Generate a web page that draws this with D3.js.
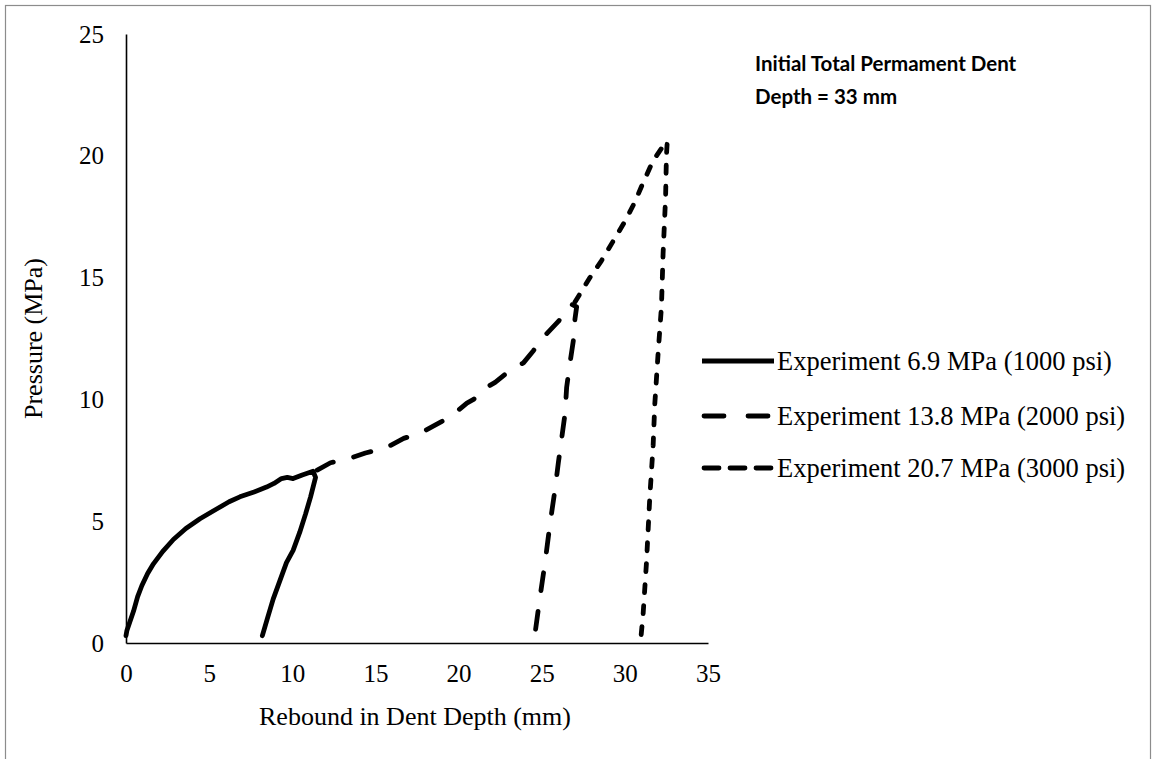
<!DOCTYPE html>
<html>
<head>
<meta charset="utf-8">
<script src="https://cdn.jsdelivr.net/npm/d3@7"></script>
<style>
  html, body { margin: 0; padding: 0; background: #fff; }
  svg { display: block; }
</style>
</head>
<body>
<svg id="chart" width="1154" height="759"></svg>
<script>
// Rebound in dent depth (mm) vs. pressure (MPa) for three pressure levels
const xTicks = [0, 5, 10, 15, 20, 25, 30, 35];
const yTicks = [0, 5, 10, 15, 20, 25];

// Experiment 6.9 MPa (1000 psi)
const depth69 = [0.0, 0.05, 0.25, 0.45, 0.7, 0.95, 1.3, 1.65, 2.2, 2.85, 3.6, 4.45, 5.45, 6.2, 6.85, 7.7, 8.45, 8.9, 9.35, 9.7, 10.05, 10.6, 11.25, 11.4, 11.1, 10.8, 10.45, 10.05, 9.65, 9.25, 8.85, 8.5, 8.2];
const press69 = [0.3, 0.5, 0.9, 1.3, 1.9, 2.35, 2.85, 3.25, 3.75, 4.25, 4.7, 5.1, 5.5, 5.8, 6.0, 6.2, 6.4, 6.55, 6.75, 6.8, 6.75, 6.9, 7.05, 6.8, 6.0, 5.3, 4.55, 3.8, 3.3, 2.55, 1.8, 1.0, 0.3];

// Experiment 13.8 MPa (2000 psi)
const depth138 = [11.5, 12.3, 13.3, 14.4, 15.6, 16.7, 17.8, 19.0, 19.8, 20.5, 20.9, 21.7, 22.2, 23.1, 23.9, 24.5, 25.3, 26.0, 26.8, 27.1, 27.0, 26.9, 26.7, 26.5, 26.4, 26.2, 26.0, 25.8, 25.5, 25.2, 24.9, 24.6];
const press138 = [7.1, 7.4, 7.55, 7.8, 8.0, 8.4, 8.65, 9.1, 9.45, 9.85, 10.0, 10.5, 10.7, 11.2, 11.5, 12.0, 12.7, 13.2, 13.9, 13.8, 13.3, 12.4, 11.5, 10.5, 9.4, 8.4, 7.4, 6.3, 4.9, 3.3, 1.9, 0.4];

// Experiment 20.7 MPa (3000 psi)
const depth207 = [27.0, 27.9, 28.6, 29.3, 30.0, 30.6, 31.1, 31.7, 32.3, 32.55, 32.5, 32.45, 32.3, 32.2, 32.0, 31.8, 31.7, 31.5, 31.3, 31.1, 30.95];
const press207 = [14.0, 15.0, 15.7, 16.5, 17.3, 18.1, 18.9, 19.8, 20.4, 20.6, 20.0, 18.3, 16.0, 13.8, 11.9, 9.8, 8.1, 6.0, 3.3, 1.2, 0.1];

const seriesNames = [
  "Experiment 6.9 MPa (1000 psi)",
  "Experiment 13.8 MPa (2000 psi)",
  "Experiment 20.7 MPa (3000 psi)"
];

const series = [
  { name: seriesNames[0], xs: depth69, ys: press69, dash: null, keyDash: null },
  { name: seriesNames[1], xs: depth138, ys: press138, dash: "18,21", keyDash: "20,24" },
  { name: seriesNames[2], xs: depth207, ys: press207, dash: "8,13", keyDash: "15,11" }
];

const svg = d3.select("#chart");
const serif = "'Liberation Serif', 'Times New Roman', serif";

// outer frame
svg.append("rect")
  .attr("x", 5.5).attr("y", 5.5)
  .attr("width", 1145).attr("height", 800)
  .attr("fill", "none").attr("stroke", "#8c8c8c").attr("stroke-width", 1.2);

const plot = { left: 126, right: 708, top: 34, bottom: 643 };
const x = d3.scaleLinear().domain([0, 35]).range([plot.left, plot.right]);
const y = d3.scaleLinear().domain([0, 25]).range([plot.bottom, plot.top]);

// axes (no tick marks, labels only)
const xAxis = d3.axisBottom(x).tickValues(xTicks).tickSize(0).tickPadding(21);
const yAxis = d3.axisLeft(y).tickValues(yTicks).tickSize(0).tickPadding(22);

const gx = svg.append("g").attr("transform", `translate(0,${plot.bottom})`).call(xAxis);
const gy = svg.append("g").attr("transform", `translate(${plot.left},0)`).call(yAxis);
[gx, gy].forEach(g => {
  g.select(".domain").attr("stroke", "#000").attr("stroke-width", 1.6);
  g.selectAll(".tick text")
    .attr("font-family", serif).attr("font-size", 25).attr("fill", "#000");
});

// axis titles
svg.append("text")
  .attr("x", (plot.left + plot.right) / 2 - 2).attr("y", 725)
  .attr("text-anchor", "middle")
  .attr("font-family", serif).attr("font-size", 26)
  .text("Rebound in Dent Depth (mm)");

svg.append("text")
  .attr("transform", `translate(42,${(plot.top + plot.bottom) / 2}) rotate(-90)`)
  .attr("text-anchor", "middle")
  .attr("font-family", serif).attr("font-size", 26)
  .text("Pressure (MPa)");

// curves
const line = d3.line().x(d => x(d[0])).y(d => y(d[1]));
series.forEach(s => {
  const pts = s.xs.map((v, i) => [v, s.ys[i]]);
  svg.append("path")
    .attr("d", line(pts))
    .attr("fill", "none")
    .attr("stroke", "#000")
    .attr("stroke-width", 4.8)
    .attr("stroke-linecap", "round")
    .attr("stroke-linejoin", "round")
    .attr("stroke-dasharray", s.dash);
});

// annotation
const note = svg.append("text")
  .attr("font-family", "Lato, 'Open Sans', sans-serif")
  .attr("font-weight", "bold").attr("font-size", 20.5).attr("fill", "#000");
note.append("tspan").attr("x", 755).attr("y", 71).text("Initial Total Permament Dent");
note.append("tspan").attr("x", 755).attr("y", 104).text("Depth = 33 mm");

// legend
const legendY = [361, 416, 468];
series.forEach((s, i) => {
  const g = svg.append("g").attr("transform", `translate(0,${legendY[i]})`);
  g.append("line")
    .attr("x1", i === 0 ? 702 : 704).attr("x2", 774)
    .attr("stroke", "#000").attr("stroke-width", 4.8)
    .attr("stroke-linecap", i === 0 ? "butt" : "round")
    .attr("stroke-dasharray", s.keyDash);
  g.append("text")
    .attr("x", 777).attr("dy", "0.33em")
    .attr("font-family", serif).attr("font-size", 26.5)
    .text(s.name);
});
</script>
</body>
</html>
